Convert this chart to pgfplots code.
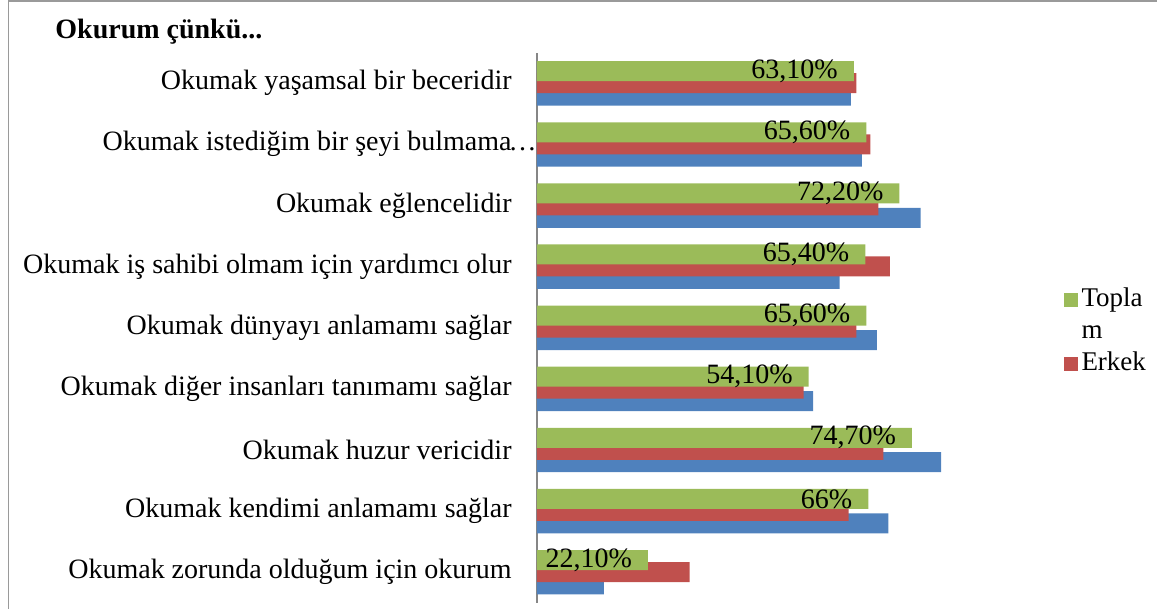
\documentclass[border=0pt]{standalone}
\usepackage{fontspec}
\setmainfont{Liberation Serif}
\usepackage{pgfplots}
\pgfplotsset{compat=1.18}
\definecolor{toplam}{HTML}{9BBB59}
\definecolor{erkek}{HTML}{C0504D}
\definecolor{kiz}{HTML}{4F81BD}
\definecolor{framegray}{HTML}{9A9A9A}
\definecolor{axisgray}{HTML}{868686}

\begin{document}
\begin{tikzpicture}
\path[use as bounding box] (0,0) rectangle (578.5pt,304.5pt);
\draw[framegray, line width=0.8pt] (4.3pt,0) -- (4.3pt,304.1pt) -- (578.5pt,304.1pt);
\node[anchor=west, inner sep=0pt, font=\bfseries\fontsize{14}{16}\selectfont] at (27.5pt,288.5pt) {Okurum çünkü...};
\begin{axis}[
    at={(268.5pt,3.2pt)}, anchor=south west,
    width=251pt, height=275pt, scale only axis,
    xbar, bar width=10pt,
    xmin=0, xmax=100, ymin=0.5, ymax=9.5,
    axis x line=none, axis y line=left,
    y axis line style={-, draw=axisgray, line width=0.8pt},
    ytick={1,...,9}, major tick length=0pt,
    yticklabels={
        Okumak zorunda olduğum için okurum,
        Okumak kendimi anlamamı sağlar,
        Okumak huzur vericidir,
        Okumak diğer insanları tanımamı sağlar,
        Okumak dünyayı anlamamı sağlar,
        Okumak iş sahibi olmam için yardımcı olur,
        Okumak eğlencelidir,
        Okumak istediğim bir şeyi bulmama\rlap{\kern-1.5pt…},
        Okumak yaşamsal bir beceridir},
    yticklabel style={font=\fontsize{14}{16}\selectfont, inner sep=0pt, xshift=-12.5pt},
    legend style={at={(1.048,0.497)}, anchor=west, draw=none, inner sep=0pt, row sep=0pt,
        font=\fontsize{13.5}{15.5}\selectfont,
        cells={anchor=base west, text height=10.5pt, text depth=4.8pt}},
    legend image code/.code={\fill[#1] (0pt,-0.3pt) rectangle (7pt,6.7pt);},
    reverse legend,
]
\addplot[fill=kiz, draw=none, bar shift=-6.2pt, forget plot] coordinates {
    (62.5,9) (64.7,8) (76.4,7) (60.3,6) (67.7,5) (55.0,4) (80.5,3) (70.0,2) (13.3,1)
};
\addplot[fill=erkek, draw=none, bar shift=0pt] coordinates {
    (63.6,9) (66.4,8) (68.0,7) (70.3,6) (63.6,5) (53.1,4) (69.0,3) (62.1,2) (30.4,1)
};
\addlegendentry{Erkek}
\addlegendimage{empty legend}
\addlegendentry{m}
\addplot[fill=toplam, draw=none, bar shift=6pt, point meta=explicit symbolic,
    nodes near coords,
    every node near coord/.append style={anchor=east, inner sep=0pt, xshift=-7.8pt,
        font=\fontsize{14}{16}\selectfont, text=black, text height=, text depth=}] coordinates {
    (63.1,9) [63,10\%] (65.6,8) [65,60\%] (72.2,7) [72,20\%] (65.4,6) [65,40\%]
    (65.6,5) [65,60\%] (54.1,4) [54,10\%] (74.7,3) [74,70\%] (66,2) [66\%]
    (22.1,1) [22,10\%]
};
\addlegendentry{Topla}
\end{axis}
\end{tikzpicture}
\end{document}
